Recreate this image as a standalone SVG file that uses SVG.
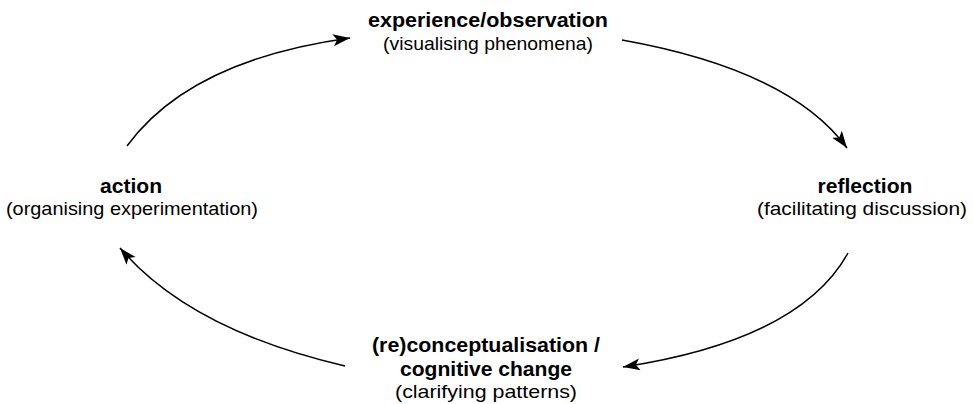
<svg xmlns="http://www.w3.org/2000/svg" width="973" height="404" viewBox="0 0 973 404">
<style>
.b{font-family:"Liberation Sans",Arial,sans-serif;font-weight:bold;font-size:21px;fill:#000;text-anchor:middle}
.r{font-family:"Liberation Sans",Arial,sans-serif;font-size:19px;fill:#000;text-anchor:middle}
.c{fill:none;stroke:#000;stroke-width:1.5}
</style>
<defs>
<marker id="ah" markerUnits="userSpaceOnUse" markerWidth="20" markerHeight="14" refX="17" refY="6" orient="auto" viewBox="0 0 20 14">
<path d="M0,0 L17,6 L0,12 L4,6 z" fill="#000"/>
</marker>
</defs>
<rect width="973" height="404" fill="#fff"/>
<g id="connectors">
<path class="c" d="M127,146 Q190,60 350,38" marker-end="url(#ah)"/>
<path class="c" d="M622,40 Q790,70 847,148" marker-end="url(#ah)"/>
<path class="c" d="M848,253 Q800,340 623,367" marker-end="url(#ah)"/>
<path class="c" d="M345,366 Q190,330 120,248" marker-end="url(#ah)"/>
</g>
<g id="experience">
<text class="b" x="488" y="27" textLength="240" lengthAdjust="spacingAndGlyphs">experience/observation</text>
<text class="r" x="488" y="50" textLength="210" lengthAdjust="spacingAndGlyphs">(visualising phenomena)</text>
</g>
<g id="reflection">
<text class="b" x="865" y="193" textLength="95" lengthAdjust="spacingAndGlyphs">reflection</text>
<text class="r" x="862" y="215" textLength="210" lengthAdjust="spacingAndGlyphs">(facilitating discussion)</text>
</g>
<g id="reconceptualisation">
<text class="b" x="486" y="352" textLength="228" lengthAdjust="spacingAndGlyphs">(re)conceptualisation /</text>
<text class="b" x="486" y="376" textLength="172" lengthAdjust="spacingAndGlyphs">cognitive change</text>
<text class="r" x="486" y="398" textLength="182" lengthAdjust="spacingAndGlyphs">(clarifying patterns)</text>
</g>
<g id="action">
<text class="b" x="131" y="193" textLength="62" lengthAdjust="spacingAndGlyphs">action</text>
<text class="r" x="132" y="215" textLength="252" lengthAdjust="spacingAndGlyphs">(organising experimentation)</text>
</g>
</svg>
